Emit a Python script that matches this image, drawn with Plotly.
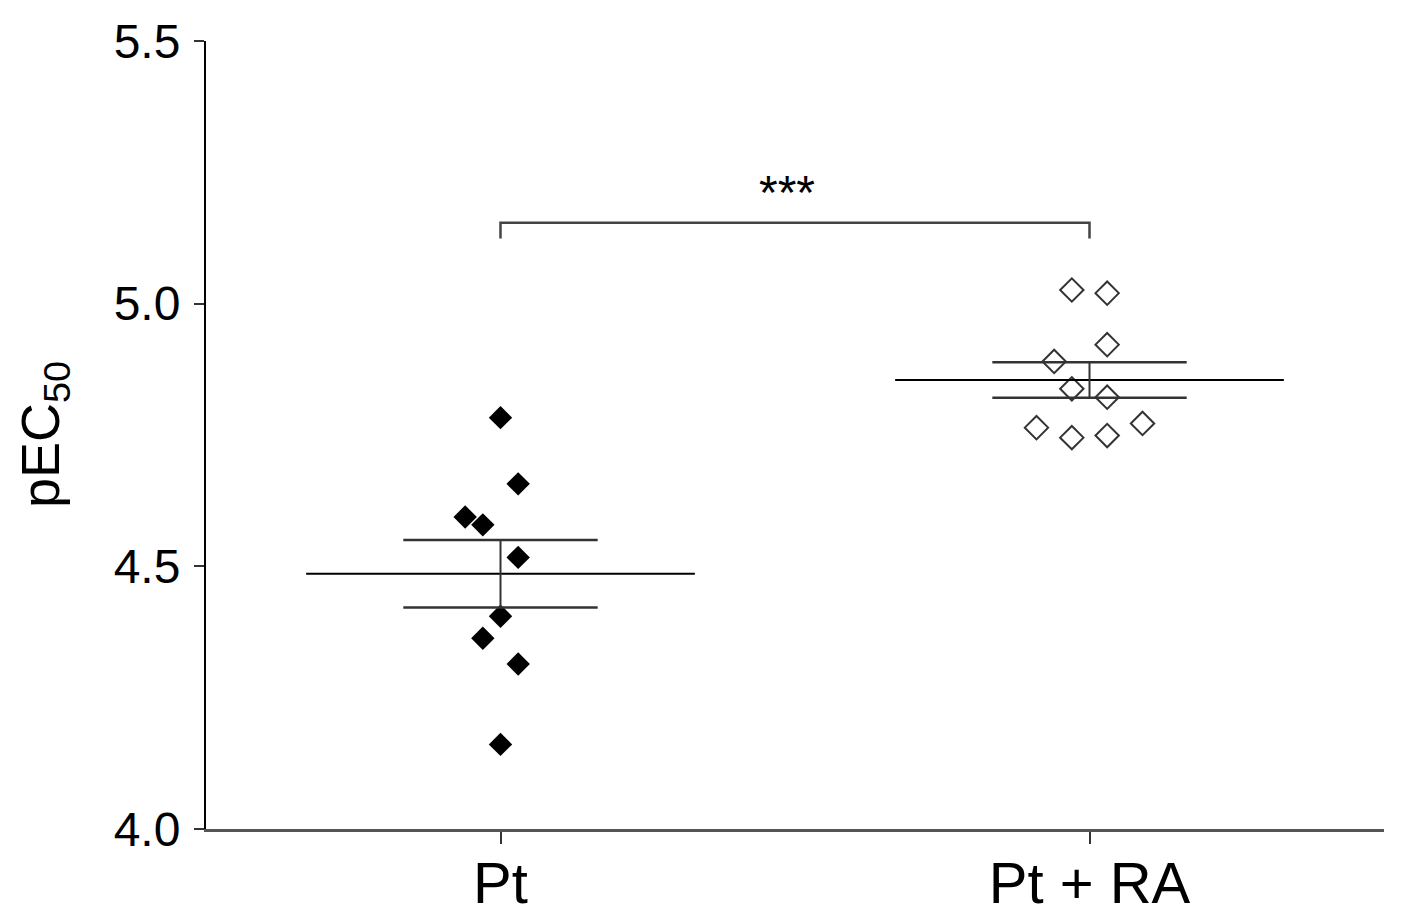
import numpy as np
import plotly.graph_objects as go

# pEC50 values
groups = ['Pt', 'Pt + RA']
pt_values = [4.783, 4.657, 4.594, 4.579, 4.517, 4.405, 4.363, 4.314, 4.161]
pt_jitter = [0.0, 0.03, -0.06, -0.03, 0.03, 0.0, -0.03, 0.03, 0.0]
ra_values = [5.026, 5.020, 4.922, 4.890, 4.838, 4.822, 4.764, 4.745, 4.749, 4.772]
ra_jitter = [-0.03, 0.03, 0.03, -0.06, -0.03, 0.03, -0.09, -0.03, 0.03, 0.09]
y_ticks = [4.0, 4.5, 5.0, 5.5]
sig_label = '***'

FONT = 'Liberation Sans, Arial, sans-serif'

fig = go.Figure()

# scatter points
fig.add_trace(go.Scatter(
    x=[0 + j for j in pt_jitter], y=pt_values, mode='markers',
    marker=dict(symbol='diamond', size=18, color='black'),
    showlegend=False))
fig.add_trace(go.Scatter(
    x=[1 + j for j in ra_jitter], y=ra_values, mode='markers',
    marker=dict(symbol='diamond-open', size=18, color='#333333',
                line=dict(width=2, color='#333333')),
    showlegend=False))

# mean and SEM
for pos, vals in enumerate([pt_values, ra_values]):
    v = np.array(vals)
    mean = v.mean()
    sem = v.std(ddof=1) / np.sqrt(len(v))
    fig.add_trace(go.Scatter(x=[pos - 0.33, pos + 0.33], y=[mean, mean], mode='lines',
                             line=dict(color='black', width=2), showlegend=False))
    for yv in (mean - sem, mean + sem):
        fig.add_trace(go.Scatter(x=[pos - 0.165, pos + 0.165], y=[yv, yv], mode='lines',
                                 line=dict(color='#333333', width=2.5), showlegend=False))
    fig.add_trace(go.Scatter(x=[pos, pos], y=[mean - sem, mean + sem], mode='lines',
                             line=dict(color='#333333', width=2), showlegend=False))

# significance bracket
fig.add_trace(go.Scatter(x=[0, 0, 1, 1], y=[5.124, 5.154, 5.154, 5.124], mode='lines',
                         line=dict(color='#444444', width=2.5), showlegend=False))
fig.add_annotation(x=0.487, y=5.212, text=sig_label, showarrow=False,
                   font=dict(family=FONT, size=48, color='black'))

# y axis title
fig.add_annotation(x=0, y=0.5, xref='paper', yref='paper', xshift=-162,
                   xanchor='center', yanchor='middle',
                   text='pEC<sub>50</sub>', textangle=-90, showarrow=False,
                   font=dict(family=FONT, size=54, color='black'))

fig.update_layout(
    width=1413, height=924,
    margin=dict(l=198, r=37, t=33, b=103),
    paper_bgcolor='white', plot_bgcolor='white',
    font=dict(family=FONT, color='black'),
    xaxis=dict(range=[-0.5, 1.5], tickvals=[0, 1], ticktext=groups, automargin=False,
               showgrid=False, zeroline=False, showline=True, linecolor='#555555', linewidth=3,
               ticks='outside', ticklen=12, tickwidth=2, tickcolor='#333333',
               tickfont=dict(size=58), ticklabelstandoff=-11),
    yaxis=dict(range=[4.0, 5.5], tickvals=y_ticks, tickformat='.1f', automargin=False,
               showgrid=False, zeroline=False, showline=True, linecolor='black', linewidth=2,
               ticks='outside', ticklen=10, tickwidth=2, tickcolor='#333333',
               tickfont=dict(size=48), ticklabelstandoff=4),
)

fig.write_html("out.html")
